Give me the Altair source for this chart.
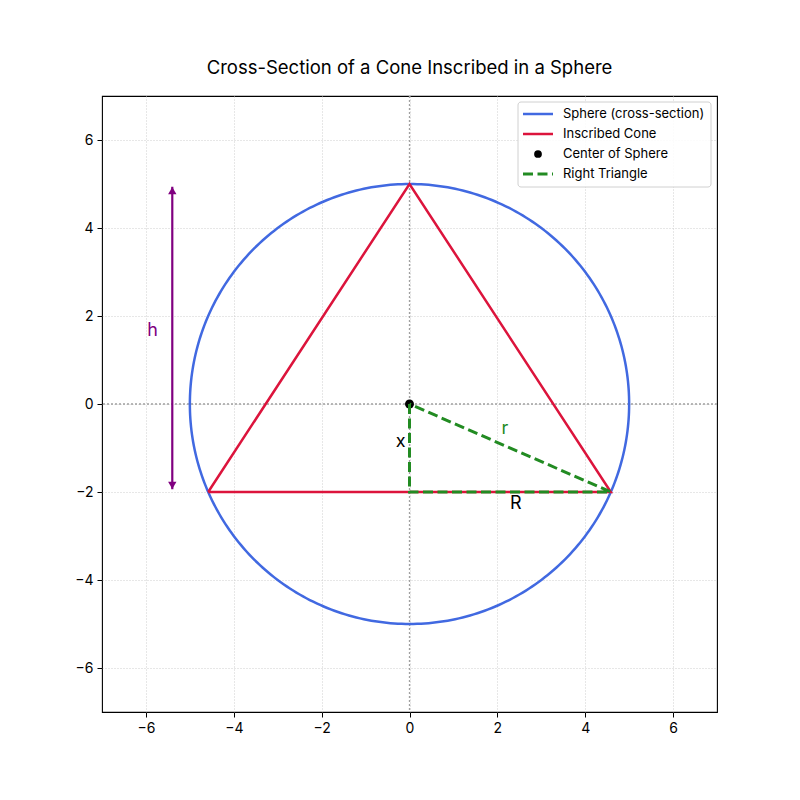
import altair as alt
import numpy as np
import pandas as pd

FONT = "Inter"

# ---- data ----
sphere_radius = 5.0
cone_x = [-4.583, 0.0, 4.583, -4.583]
cone_y = [-2.0, 5.0, -2.0, -2.0]
tri_x = [0.0, 0.0, 4.583, 0.0]
tri_y = [0.0, -2.0, -2.0, 0.0]
center_x = [0.0]
center_y = [0.0]
arrow_x = [-5.4, -5.4]
arrow_y = [-1.94, 4.94]
label_text = ["h", "x", "r", "R"]
label_x = [-5.85, -0.2, 2.17, 2.42]
label_y = [1.65, -0.87, -0.57, -2.27]
label_color = ["#800080", "#000000", "#228B22", "#000000"]
legend_labels = ["Sphere (cross-section)", "Inscribed Cone", "Center of Sphere", "Right Triangle"]
ticks = [-6, -4, -2, 0, 2, 4, 6]

theta = np.linspace(0, 2 * np.pi, 361)
circle_df = pd.DataFrame({"x": sphere_radius * np.cos(theta), "y": sphere_radius * np.sin(theta), "o": np.arange(len(theta))})
cone_df = pd.DataFrame({"x": cone_x, "y": cone_y, "o": range(len(cone_x))})
tri_df = pd.DataFrame({"x": tri_x, "y": tri_y, "o": range(len(tri_x))})
center_df = pd.DataFrame({"x": center_x, "y": center_y})
arrow_df = pd.DataFrame({"x": arrow_x, "y": arrow_y, "o": [0, 1]})
labels_df = pd.DataFrame({"x": label_x, "y": label_y, "t": label_text, "c": label_color})
zero_df = pd.DataFrame({"v": [0.0]})

xs = alt.Scale(domain=[-7, 7], nice=False, zero=False)
ys = alt.Scale(domain=[-7, 7], nice=False, zero=False)
minus = "replace(datum.label, '-', '\u2212')"
X = lambda f="x": alt.X(f"{f}:Q", scale=xs, axis=alt.Axis(values=ticks, title=None, labelExpr=minus))
Y = lambda f="y": alt.Y(f"{f}:Q", scale=ys, axis=alt.Axis(values=ticks, title=None, labelExpr=minus))

vline = alt.Chart(zero_df).mark_rule(color="#a0a0a0", strokeWidth=1.3, strokeDash=[2, 2]).encode(x=X("v"))
hline = alt.Chart(zero_df).mark_rule(color="#a0a0a0", strokeWidth=1.3, strokeDash=[2, 2]).encode(y=Y("v"))

circle = alt.Chart(circle_df).mark_line(color="#4169E1", strokeWidth=2.5).encode(x=X(), y=Y(), order="o:Q")
cone = alt.Chart(cone_df).mark_line(color="#DC143C", strokeWidth=2.5).encode(x=X(), y=Y(), order="o:Q")
center = alt.Chart(center_df).mark_point(filled=True, color="black", size=80, opacity=1).encode(x=X(), y=Y())
tri = alt.Chart(tri_df).mark_line(color="#228B22", strokeWidth=3, strokeDash=[10, 4.5]).encode(x=X(), y=Y(), order="o:Q")

arrow_line = alt.Chart(arrow_df).mark_line(color="#800080", strokeWidth=2.2).encode(x=X(), y=Y(), order="o:Q")
arrow_top = alt.Chart(arrow_df.iloc[[1]]).mark_point(shape="triangle-up", filled=True, color="#800080", size=70, opacity=1, yOffset=4).encode(x=X(), y=Y())
arrow_bot = alt.Chart(arrow_df.iloc[[0]]).mark_point(shape="triangle-down", filled=True, color="#800080", size=70, opacity=1, yOffset=-4).encode(x=X(), y=Y())

labels = alt.Chart(labels_df).mark_text(fontSize=18, font=FONT, align="center", baseline="middle").encode(
    x=X(), y=Y(), text="t:N", color=alt.Color("c:N", scale=None)
)

# ---- legend (drawn in pixel space) ----
lx0, lx1, ly0, ly1 = 416, 609, 6, 91
row_y = [18, 38, 58, 78]
legend_layers = [
    alt.Chart(zero_df).mark_rect(fill="white", fillOpacity=0.85, stroke="#d0d0d0", strokeWidth=1, cornerRadius=3).encode(
        x=alt.value(lx0), x2=alt.value(lx1), y=alt.value(ly0), y2=alt.value(ly1)
    ),
    alt.Chart(zero_df).mark_rule(color="#4169E1", strokeWidth=2.5).encode(x=alt.value(421), x2=alt.value(451), y=alt.value(row_y[0])),
    alt.Chart(zero_df).mark_rule(color="#DC143C", strokeWidth=2.5).encode(x=alt.value(421), x2=alt.value(451), y=alt.value(row_y[1])),
    alt.Chart(zero_df).mark_point(filled=True, color="black", size=60, opacity=1).encode(x=alt.value(436), y=alt.value(row_y[2])),
    alt.Chart(zero_df).mark_rule(color="#228B22", strokeWidth=3, strokeDash=[10, 4.5]).encode(x=alt.value(421), x2=alt.value(451), y=alt.value(row_y[3])),
]
for lab, yy in zip(legend_labels, row_y):
    legend_layers.append(
        alt.Chart(zero_df).mark_text(align="left", baseline="middle", fontSize=13, font=FONT, color="black").encode(
            x=alt.value(461), y=alt.value(yy), text=alt.value(lab)
        )
    )

chart = alt.layer(
    vline, hline, circle, cone, center, tri, arrow_line, arrow_top, arrow_bot, labels, *legend_layers
).properties(
    width=615,
    height=616,
    title=alt.TitleParams("Cross-Section of a Cone Inscribed in a Sphere", fontSize=18.5, fontWeight="normal", font=FONT, color="black", offset=18),
    autosize=alt.AutoSizeParams(type="none"),
    padding={"left": 94, "top": 88, "right": 70, "bottom": 80},
).configure_view(
    stroke="black", strokeWidth=1.1
).configure_axis(
    domain=False,
    grid=True,
    gridColor="#c8c8c8",
    gridDash=[1, 2],
    gridWidth=0.9,
    tickColor="black",
    tickSize=5,
    tickWidth=1,
    labelFont=FONT,
    labelFontSize=14,
    labelColor="black",
    labelPadding=4,
)

chart.save("out.html", embed_options={"renderer": "svg", "actions": False})
